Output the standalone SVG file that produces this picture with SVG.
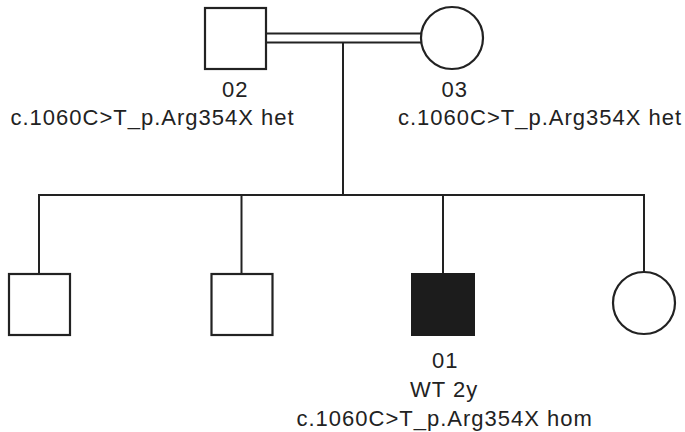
<svg xmlns="http://www.w3.org/2000/svg" width="685" height="432" viewBox="0 0 685 432">
<style>
.ln{stroke:#222;stroke-width:2;fill:none}
.sym{stroke:#222;stroke-width:2.2;fill:#fff}
.aff{fill:#1c1c1c;stroke:#1c1c1c;stroke-width:2}
.t{font-family:"Liberation Sans",Arial,sans-serif;font-size:22px;letter-spacing:1px;fill:#222}
</style>
<rect width="685" height="432" fill="#fff"/>
<g id="connectors">
<line class="ln" x1="267" y1="33.5" x2="421" y2="33.5"/>
<line class="ln" x1="267" y1="42.5" x2="421" y2="42.5"/>
<line class="ln" x1="343" y1="43" x2="343" y2="195"/>
<polyline class="ln" points="39,273 39,195 644,195 644,273"/>
<line class="ln" x1="241.5" y1="195" x2="241.5" y2="273"/>
<line class="ln" x1="443" y1="195" x2="443" y2="273"/>
</g>
<g id="n02">
<rect class="sym" x="205" y="8" width="61" height="61"/>
<text class="t" x="222" y="97">02</text>
<text class="t" x="10.5" y="125">c.1060C&gt;T_p.Arg354X het</text>
</g>
<g id="n03">
<circle class="sym" cx="452" cy="38" r="31"/>
<text class="t" x="441.5" y="97">03</text>
<text class="t" x="398" y="125">c.1060C&gt;T_p.Arg354X het</text>
</g>
<g id="c1">
<rect class="sym" x="9" y="274" width="61" height="61"/>
</g>
<g id="c2">
<rect class="sym" x="211.5" y="274" width="61" height="61"/>
</g>
<g id="n01">
<rect class="aff" x="412" y="274" width="62" height="61"/>
<text class="t" x="432" y="368">01</text>
<text class="t" x="410" y="397">WT 2y</text>
<text class="t" x="296.5" y="426">c.1060C&gt;T_p.Arg354X hom</text>
</g>
<g id="c4">
<circle class="sym" cx="644" cy="303" r="31"/>
</g>
</svg>
